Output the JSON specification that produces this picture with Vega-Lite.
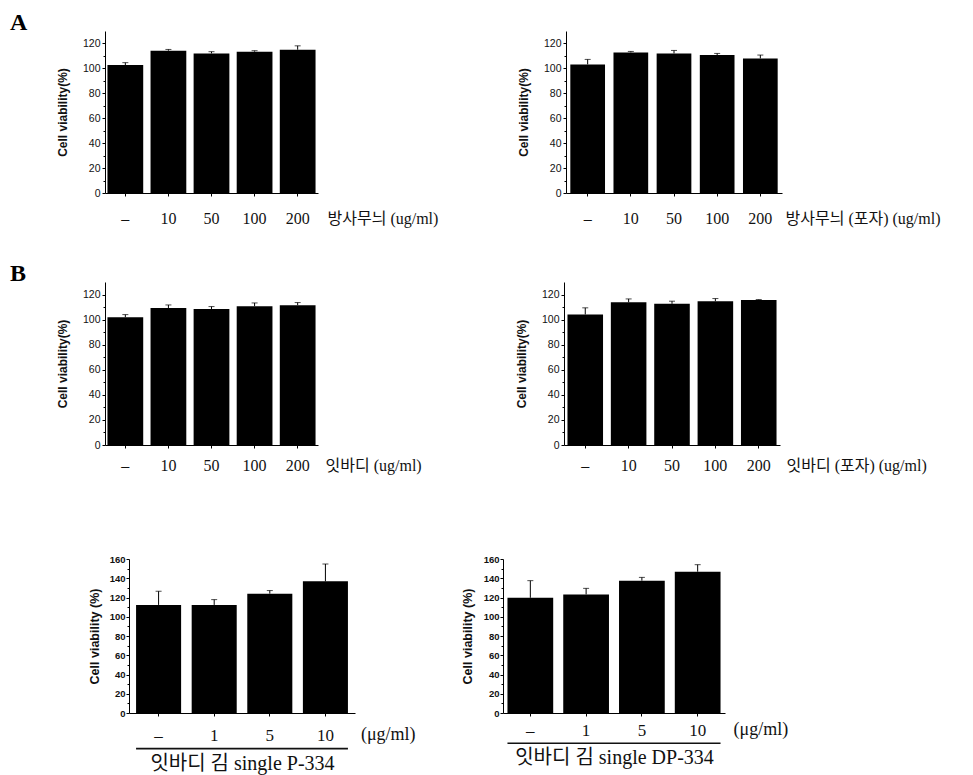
{
  "$schema": "https://vega.github.io/schema/vega-lite/v6.json",
  "background": "white",
  "padding": {"left": 10, "top": 11, "right": 2, "bottom": 2},
  "config": {
    "view": {"stroke": null},
    "axis": {"domainColor": "black", "tickColor": "black", "domainWidth": 1, "tickWidth": 1, "grid": false, "labelColor": "#111", "titleColor": "#111"},
    "axisX": {"labelAngle": 0, "labelFont": "Liberation Serif", "labelFontSize": 16, "labelBaseline": "middle", "tickSize": 3, "titleFont": "Liberation Serif, Noto Sans CJK KR", "titleFontSize": 16, "titleFontWeight": "normal", "titleAlign": "left", "titleBaseline": "middle", "titleAngle": 0},
    "axisY": {"labelFont": "Liberation Sans", "labelFontSize": 10.5, "labelPadding": 2, "tickSize": 3, "titleFont": "Liberation Sans", "titleFontSize": 12, "titleFontWeight": "bold", "titleBaseline": "middle"}
  },
  "datasets": {
    "a1": [
      {"dose": "–", "mean": 102.7, "upper": 104.6},
      {"dose": "10", "mean": 114.2, "upper": 115.2},
      {"dose": "50", "mean": 112.0, "upper": 113.4},
      {"dose": "100", "mean": 113.4, "upper": 114.2},
      {"dose": "200", "mean": 115.0, "upper": 118.1}
    ],
    "a2": [
      {"dose": "–", "mean": 103.2, "upper": 107.2},
      {"dose": "10", "mean": 112.8, "upper": 113.6},
      {"dose": "50", "mean": 112.0, "upper": 114.4},
      {"dose": "100", "mean": 110.7, "upper": 112.0},
      {"dose": "200", "mean": 108.0, "upper": 110.7}
    ],
    "b1": [
      {"dose": "–", "mean": 101.9, "upper": 104.0},
      {"dose": "10", "mean": 109.3, "upper": 111.7},
      {"dose": "50", "mean": 108.5, "upper": 110.4},
      {"dose": "100", "mean": 110.7, "upper": 113.3},
      {"dose": "200", "mean": 111.5, "upper": 113.6}
    ],
    "b2": [
      {"dose": "–", "mean": 104.1, "upper": 109.4},
      {"dose": "10", "mean": 113.9, "upper": 116.5},
      {"dose": "50", "mean": 112.6, "upper": 114.7},
      {"dose": "100", "mean": 114.7, "upper": 116.8},
      {"dose": "200", "mean": 115.7, "upper": 116.0}
    ],
    "c1": [
      {"dose": "–", "mean": 112.3, "upper": 126.5},
      {"dose": "1", "mean": 112.3, "upper": 117.8},
      {"dose": "5", "mean": 124.0, "upper": 127.2},
      {"dose": "10", "mean": 136.8, "upper": 154.8}
    ],
    "c2": [
      {"dose": "–", "mean": 119.7, "upper": 137.5},
      {"dose": "1", "mean": 123.2, "upper": 129.5},
      {"dose": "5", "mean": 137.5, "upper": 140.9},
      {"dose": "10", "mean": 146.8, "upper": 154.1}
    ],
    "one": [{"k": 1}]
  },
  "spacing": 36,
  "vconcat": [
    {
      "bounds": "flush",
      "spacing": 248,
      "hconcat": [
        {
          "width": 213, "height": 162,
          "title": {"text": "A", "anchor": "start", "frame": "group", "orient": "top", "dx": -95, "dy": 23, "offset": 0, "baseline": "alphabetic", "font": "Liberation Serif", "fontSize": 24, "fontWeight": "bold", "color": "black"},
          "data": {"name": "a1"},
          "resolve": {"axis": {"y": "independent"}},
          "layer": [
            {"mark": {"type": "bar", "color": "black"},
             "encoding": {
               "x": {"field": "dose", "type": "nominal", "sort": null, "scale": {"domain": ["–", "10", "50", "100", "200"], "paddingInner": 0.17, "paddingOuter": 0.057}, "axis": {"title": "방사무늬 (ug/ml)", "titleX": 222, "titleY": 25, "labelPadding": 22}},
               "y": {"field": "mean", "type": "quantitative", "scale": {"domain": [0, 130], "nice": false}, "axis": {"values": [0, 20, 40, 60, 80, 100, 120], "title": "Cell viability(%)", "titleX": -43}}
             }},
            {"mark": {"type": "rule", "color": "black", "strokeWidth": 1},
             "encoding": {
               "x": {"field": "dose", "type": "nominal"},
               "y": {"field": "mean", "type": "quantitative", "axis": {"orient": "left", "values": [10, 30, 50, 70, 90, 110], "labels": false, "domain": false, "tickSize": 2, "title": null}},
               "y2": {"field": "upper"}
             }},
            {"mark": {"type": "tick", "color": "black", "thickness": 1, "size": 6},
             "encoding": {
               "x": {"field": "dose", "type": "nominal"},
               "y": {"field": "upper", "type": "quantitative", "axis": null}
             }}
          ]
        },
        {
          "width": 216, "height": 162,
          "data": {"name": "a2"},
          "resolve": {"axis": {"y": "independent"}},
          "layer": [
            {"mark": {"type": "bar", "color": "black"},
             "encoding": {
               "x": {"field": "dose", "type": "nominal", "sort": null, "scale": {"domain": ["–", "10", "50", "100", "200"], "paddingInner": 0.196, "paddingOuter": 0.1}, "axis": {"title": "방사무늬 (포자) (ug/ml)", "titleX": 219, "titleY": 25, "labelPadding": 22}},
               "y": {"field": "mean", "type": "quantitative", "scale": {"domain": [0, 130], "nice": false}, "axis": {"values": [0, 20, 40, 60, 80, 100, 120], "title": "Cell viability(%)", "titleX": -43}}
             }},
            {"mark": {"type": "rule", "color": "black", "strokeWidth": 1},
             "encoding": {
               "x": {"field": "dose", "type": "nominal"},
               "y": {"field": "mean", "type": "quantitative", "axis": {"orient": "left", "values": [10, 30, 50, 70, 90, 110], "labels": false, "domain": false, "tickSize": 2, "title": null}},
               "y2": {"field": "upper"}
             }},
            {"mark": {"type": "tick", "color": "black", "thickness": 1, "size": 6},
             "encoding": {
               "x": {"field": "dose", "type": "nominal"},
               "y": {"field": "upper", "type": "quantitative", "axis": null}
             }}
          ]
        }
      ]
    },
    {
      "bounds": "flush",
      "spacing": 246,
      "hconcat": [
        {
          "width": 213, "height": 163,
          "title": {"text": "B", "anchor": "start", "frame": "group", "orient": "top", "dx": -95, "dy": 23, "offset": 0, "baseline": "alphabetic", "font": "Liberation Serif", "fontSize": 24, "fontWeight": "bold", "color": "black"},
          "data": {"name": "b1"},
          "resolve": {"axis": {"y": "independent"}},
          "layer": [
            {"mark": {"type": "bar", "color": "black"},
             "encoding": {
               "x": {"field": "dose", "type": "nominal", "sort": null, "scale": {"domain": ["–", "10", "50", "100", "200"], "paddingInner": 0.17, "paddingOuter": 0.057}, "axis": {"title": "잇바디 (ug/ml)", "titleX": 220, "titleY": 20, "labelPadding": 17}},
               "y": {"field": "mean", "type": "quantitative", "scale": {"domain": [0, 130], "nice": false}, "axis": {"values": [0, 20, 40, 60, 80, 100, 120], "title": "Cell viability(%)", "titleX": -43}}
             }},
            {"mark": {"type": "rule", "color": "black", "strokeWidth": 1},
             "encoding": {
               "x": {"field": "dose", "type": "nominal"},
               "y": {"field": "mean", "type": "quantitative", "axis": {"orient": "left", "values": [10, 30, 50, 70, 90, 110], "labels": false, "domain": false, "tickSize": 2, "title": null}},
               "y2": {"field": "upper"}
             }},
            {"mark": {"type": "tick", "color": "black", "thickness": 1, "size": 6},
             "encoding": {
               "x": {"field": "dose", "type": "nominal"},
               "y": {"field": "upper", "type": "quantitative", "axis": null}
             }}
          ]
        },
        {
          "width": 216, "height": 163,
          "data": {"name": "b2"},
          "resolve": {"axis": {"y": "independent"}},
          "layer": [
            {"mark": {"type": "bar", "color": "black"},
             "encoding": {
               "x": {"field": "dose", "type": "nominal", "sort": null, "scale": {"domain": ["–", "10", "50", "100", "200"], "paddingInner": 0.18, "paddingOuter": 0.08}, "axis": {"title": "잇바디 (포자) (ug/ml)", "titleX": 222, "titleY": 20, "labelPadding": 17}},
               "y": {"field": "mean", "type": "quantitative", "scale": {"domain": [0, 130], "nice": false}, "axis": {"values": [0, 20, 40, 60, 80, 100, 120], "title": "Cell viability(%)", "titleX": -43}}
             }},
            {"mark": {"type": "rule", "color": "black", "strokeWidth": 1},
             "encoding": {
               "x": {"field": "dose", "type": "nominal"},
               "y": {"field": "mean", "type": "quantitative", "axis": {"orient": "left", "values": [10, 30, 50, 70, 90, 110], "labels": false, "domain": false, "tickSize": 2, "title": null}},
               "y2": {"field": "upper"}
             }},
            {"mark": {"type": "tick", "color": "black", "thickness": 1, "size": 6},
             "encoding": {
               "x": {"field": "dose", "type": "nominal"},
               "y": {"field": "upper", "type": "quantitative", "axis": null}
             }}
          ]
        }
      ]
    },
    {
      "bounds": "flush",
      "spacing": 148,
      "hconcat": [
        {
          "width": 250, "height": 154,
          "title": {"text": " ", "anchor": "start", "frame": "group", "orient": "top", "dx": 24, "dy": -2, "offset": 0, "baseline": "alphabetic", "font": "Liberation Serif", "fontSize": 24, "fontWeight": "bold", "color": "black"},
          "data": {"name": "c1"},
          "resolve": {"axis": {"y": "independent"}},
          "layer": [
            {"mark": {"type": "bar", "color": "black"},
             "encoding": {
               "x": {"field": "dose", "type": "nominal", "sort": null, "scale": {"domain": ["–", "1", "5", "10"], "range": [24, 250], "paddingInner": 0.19, "paddingOuter": 0.127}, "axis": {"title": "잇바디 김 single P-334", "titleAlign": "center", "titleX": 137, "titleY": 50, "titleFontSize": 20, "labelFontSize": 17, "labelPadding": 19}},
               "y": {"field": "mean", "type": "quantitative", "scale": {"domain": [0, 160], "nice": false}, "axis": {"offset": -24, "values": [0, 20, 40, 60, 80, 100, 120, 140, 160], "title": "Cell viability (%)", "titleX": -35, "titleFontSize": 12.5, "labelFontSize": 9.5, "labelFontWeight": "bold", "labelPadding": 1}}
             }},
            {"mark": {"type": "rule", "color": "black", "strokeWidth": 1},
             "encoding": {
               "x": {"field": "dose", "type": "nominal"},
               "y": {"field": "mean", "type": "quantitative", "axis": {"orient": "left", "offset": -24, "values": [10, 30, 50, 70, 90, 110, 130, 150], "labels": false, "domain": false, "tickSize": 2, "title": null}},
               "y2": {"field": "upper"}
             }},
            {"mark": {"type": "tick", "color": "black", "thickness": 1, "size": 6},
             "encoding": {
               "x": {"field": "dose", "type": "nominal"},
               "y": {"field": "upper", "type": "quantitative", "axis": null}
             }},
            {"data": {"name": "one"},
             "mark": {"type": "text", "align": "left", "baseline": "middle", "dx": 13, "font": "Liberation Serif", "fontSize": 18, "color": "#111"},
             "encoding": {
               "x": {"datum": "10", "type": "nominal", "bandPosition": 1},
               "y": {"datum": -22.9, "type": "quantitative", "axis": null},
               "text": {"value": "(μg/ml)"}
             }},
            {"data": {"name": "one"},
             "mark": {"type": "rule", "color": "#111", "strokeWidth": 1.6},
             "encoding": {
               "x": {"datum": "–", "type": "nominal", "bandPosition": 0},
               "x2": {"datum": "10", "bandPosition": 1},
               "y": {"datum": -37, "type": "quantitative", "axis": null}
             }}
          ]
        },
        {
          "width": 222, "height": 154,
          "data": {"name": "c2"},
          "resolve": {"axis": {"y": "independent"}},
          "layer": [
            {"mark": {"type": "bar", "color": "black"},
             "encoding": {
               "x": {"field": "dose", "type": "nominal", "sort": null, "scale": {"domain": ["–", "1", "5", "10"], "paddingInner": 0.18, "paddingOuter": 0.08}, "axis": {"title": "잇바디 김 single DP-334", "titleAlign": "center", "titleY": 44, "titleFontSize": 20, "labelFontSize": 17, "labelPadding": 14}},
               "y": {"field": "mean", "type": "quantitative", "scale": {"domain": [0, 160], "nice": false}, "axis": {"values": [0, 20, 40, 60, 80, 100, 120, 140, 160], "title": "Cell viability (%)", "titleX": -36, "titleFontSize": 12.5, "labelFontSize": 9.5, "labelFontWeight": "bold", "labelPadding": 1}}
             }},
            {"mark": {"type": "rule", "color": "black", "strokeWidth": 1},
             "encoding": {
               "x": {"field": "dose", "type": "nominal"},
               "y": {"field": "mean", "type": "quantitative", "axis": {"orient": "left", "values": [10, 30, 50, 70, 90, 110, 130, 150], "labels": false, "domain": false, "tickSize": 2, "title": null}},
               "y2": {"field": "upper"}
             }},
            {"mark": {"type": "tick", "color": "black", "thickness": 1, "size": 6},
             "encoding": {
               "x": {"field": "dose", "type": "nominal"},
               "y": {"field": "upper", "type": "quantitative", "axis": null}
             }},
            {"data": {"name": "one"},
             "mark": {"type": "text", "align": "left", "baseline": "middle", "dx": 13, "font": "Liberation Serif", "fontSize": 18, "color": "#111"},
             "encoding": {
               "x": {"datum": "10", "type": "nominal", "bandPosition": 1},
               "y": {"datum": -17.7, "type": "quantitative", "axis": null},
               "text": {"value": "(μg/ml)"}
             }},
            {"data": {"name": "one"},
             "mark": {"type": "rule", "color": "#111", "strokeWidth": 1.6},
             "encoding": {
               "x": {"datum": "–", "type": "nominal", "bandPosition": 0},
               "x2": {"datum": "10", "bandPosition": 1},
               "y": {"datum": -31.5, "type": "quantitative", "axis": null}
             }}
          ]
        }
      ]
    }
  ]
}
